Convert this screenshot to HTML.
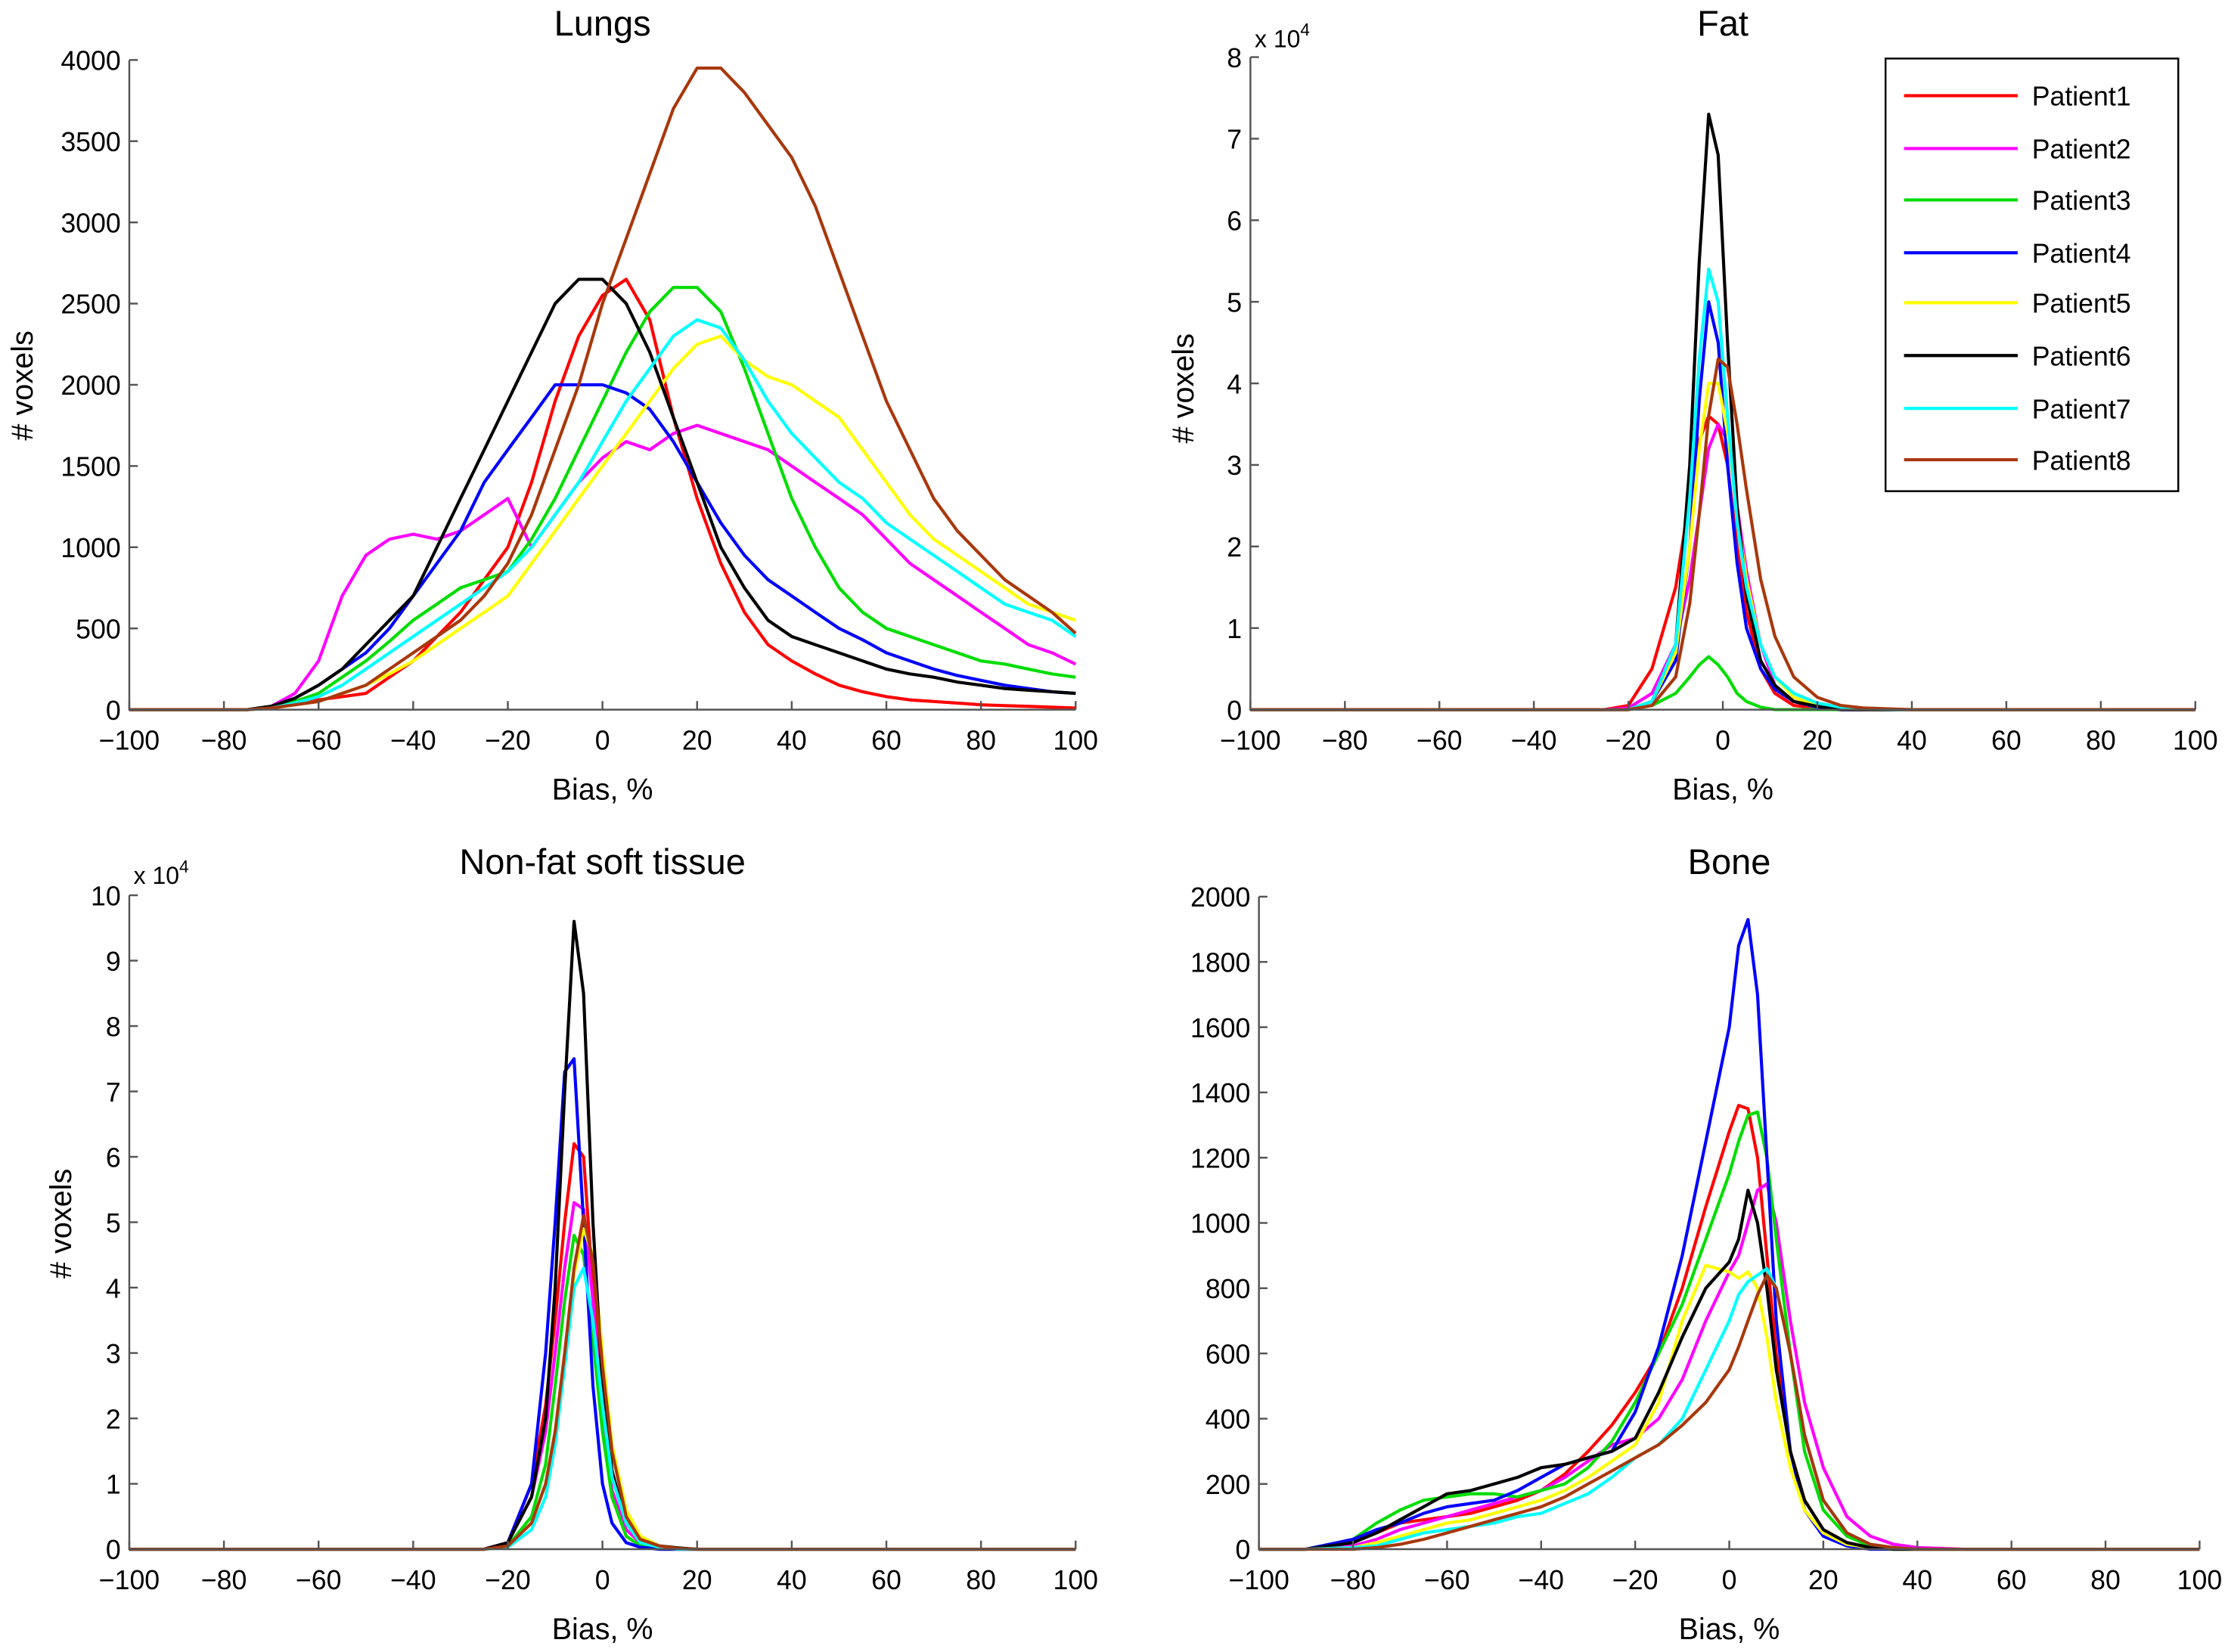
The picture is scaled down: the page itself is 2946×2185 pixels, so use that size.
<!DOCTYPE html>
<html><head><meta charset="utf-8"><style>
html,body{margin:0;padding:0;background:#fff;}
svg{display:block;font-family:"Liberation Sans",Arial,sans-serif;}
</style></head><body>
<svg id="fig" width="2946" height="2185" viewBox="0 0 1568 1157" preserveAspectRatio="none" xmlns="http://www.w3.org/2000/svg"></svg>
<script>
const colors=["#ff0000","#ff00ff","#00dd00","#0000ff","#ffff00","#000000","#00ffff","#a8380c"];
const names=["Patient1","Patient2","Patient3","Patient4","Patient5","Patient6","Patient7","Patient8"];
const lungX=[-100,-95,-90,-85,-80,-75,-70,-65,-60,-55,-50,-45,-40,-35,-30,-25,-20,-15,-10,-5,0,5,10,15,20,25,30,35,40,45,50,55,60,65,70,75,80,85,90,95,100];
const lungP1=[0,0,0,0,0,0,10,40,60,80,100,200,300,450,600,800,1000,1400,1900,2300,2550,2650,2400,1800,1300,900,600,400,300,220,150,110,80,60,50,40,30,25,20,15,10];
const lungP2=[0,0,0,0,0,0,20,100,300,700,950,1050,1080,1050,1100,1200,1300,1000,1200,1400,1550,1650,1600,1700,1750,1700,1650,1600,1500,1400,1300,1200,1050,900,800,700,600,500,400,350,280];
const lungP3=[0,0,0,0,0,0,20,50,100,200,300,420,550,650,750,800,850,1050,1300,1600,1900,2200,2450,2600,2600,2450,2100,1700,1300,1000,750,600,500,450,400,350,300,280,250,220,200];
const lungP4=[0,0,0,0,0,0,20,70,150,250,350,500,700,900,1100,1400,1600,1800,2000,2000,2000,1950,1850,1650,1400,1150,950,800,700,600,500,430,350,300,250,210,180,150,130,110,100];
const lungP5=[0,0,0,0,0,0,10,30,50,100,150,220,300,400,500,600,700,900,1100,1300,1500,1700,1900,2100,2250,2300,2150,2050,2000,1900,1800,1600,1400,1200,1050,950,850,750,650,600,550];
const lungP6=[0,0,0,0,0,0,20,70,150,250,400,550,700,1000,1300,1600,1900,2200,2500,2650,2650,2500,2200,1800,1400,1000,750,550,450,400,350,300,250,220,200,170,150,130,120,110,100];
const lungP7=[0,0,0,0,0,0,10,40,80,150,250,350,450,550,650,750,850,1000,1200,1400,1650,1900,2100,2300,2400,2350,2150,1900,1700,1550,1400,1300,1150,1050,950,850,750,650,600,550,450];
const lungP8=[0,0,0,0,0,0,10,30,50,100,150,250,350,450,550,700,900,1200,1600,2000,2500,2900,3300,3700,3950,3950,3800,3600,3400,3100,2700,2300,1900,1600,1300,1100,950,800,700,600,470];
const fatX=[-100,-40,-25,-20,-15,-10,-7,-5,-3,-1,1,3,5,8,11,15,20,25,30,40,100];
const fatP1=[0,0,0,0.05,0.5,1.5,2.6,3.3,3.6,3.5,3.0,2.0,1.2,0.5,0.2,0.05,0.02,0,0,0,0];
const fatP2=[0,0,0,0.02,0.2,0.8,1.6,2.4,3.2,3.5,3.3,2.5,1.7,0.8,0.3,0.1,0.03,0,0,0,0];
const fatP3=[0,0,0,0,0.05,0.2,0.4,0.55,0.65,0.55,0.4,0.2,0.1,0.03,0,0,0,0,0,0,0];
const fatP4=[0,0,0,0,0.1,0.6,2.0,3.8,5.0,4.5,3.0,1.8,1.0,0.5,0.25,0.1,0.03,0,0,0,0];
const fatP5=[0,0,0,0,0.1,0.7,2.0,3.2,4.0,4.0,3.4,2.4,1.6,0.8,0.4,0.15,0.05,0.01,0,0,0];
const fatP6=[0,0,0,0,0.1,0.8,3.0,5.5,7.3,6.8,4.5,2.5,1.4,0.6,0.3,0.1,0.04,0,0,0,0];
const fatP7=[0,0,0,0,0.1,0.8,2.6,4.3,5.4,5.0,3.6,2.3,1.5,0.8,0.4,0.2,0.08,0.03,0.01,0,0];
const fatP8=[0,0,0,0,0.05,0.4,1.3,2.4,3.6,4.3,4.2,3.5,2.7,1.6,0.9,0.4,0.15,0.05,0.02,0,0];
const softX=[-100,-40,-25,-20,-15,-12,-10,-8,-6,-4,-2,0,2,5,8,12,16,20,30,100];
const softP1=[0,0,0,0.1,1.0,2.2,3.5,5.0,6.2,6.0,4.0,2.0,0.8,0.2,0.05,0,0,0,0,0];
const softP2=[0,0,0,0.1,0.8,1.8,3.0,4.3,5.3,5.2,3.8,2.0,0.9,0.3,0.1,0.02,0,0,0,0];
const softP3=[0,0,0,0.05,0.5,1.3,2.5,3.8,4.8,4.5,3.2,1.8,0.8,0.2,0.05,0,0,0,0,0];
const softP4=[0,0,0,0.1,1.0,3.0,5.0,7.3,7.5,5.0,2.5,1.0,0.4,0.1,0.03,0,0,0,0,0];
const softP5=[0,0,0,0.05,0.4,1.0,1.8,3.0,4.2,4.9,4.5,3.0,1.6,0.6,0.2,0.05,0.01,0,0,0];
const softP6=[0,0,0,0.1,0.8,2.0,4.0,7.0,9.6,8.5,5.0,2.5,1.2,0.4,0.15,0.05,0.02,0,0,0];
const softP7=[0,0,0,0.03,0.3,0.8,1.6,2.8,4.0,4.3,3.5,2.2,1.1,0.4,0.1,0.03,0,0,0,0];
const softP8=[0,0,0,0.05,0.4,1.0,1.8,3.0,4.3,5.1,4.4,2.8,1.5,0.5,0.15,0.05,0.01,0,0,0];
const boneX=[-100,-90,-80,-75,-70,-65,-60,-55,-50,-45,-40,-35,-30,-25,-20,-15,-10,-5,0,2,4,6,8,10,13,16,20,25,30,35,40,50,100];
const boneP1=[0,0,20,50,80,90,100,110,130,150,180,230,300,380,480,600,800,1050,1280,1360,1350,1200,900,600,300,150,60,20,5,0,0,0,0];
const boneP2=[0,0,10,30,60,80,100,120,140,160,180,220,270,320,340,400,520,700,850,900,1000,1100,1120,1000,700,450,250,100,40,15,5,0,0];
const boneP3=[0,0,30,80,120,150,160,170,170,160,180,200,250,330,450,600,750,950,1150,1250,1330,1340,1200,950,600,300,120,40,10,0,0,0,0];
const boneP4=[0,0,30,60,80,110,130,140,150,180,220,260,280,300,420,620,900,1250,1600,1850,1930,1700,1200,700,300,120,40,10,0,0,0,0,0];
const boneP5=[0,0,5,20,40,60,80,90,110,130,150,180,220,270,320,450,700,870,850,830,850,800,650,450,250,120,50,15,5,0,0,0,0];
const boneP6=[0,0,20,50,90,130,170,180,200,220,250,260,280,300,340,480,650,800,880,950,1100,1000,800,550,300,150,60,20,5,0,0,0,0];
const boneP7=[0,0,5,10,30,50,60,70,80,100,110,140,170,220,280,320,400,550,700,780,820,840,860,800,600,350,150,50,15,5,0,0,0];
const boneP8=[0,0,0,5,15,30,50,70,90,110,130,160,200,240,280,320,380,450,550,620,700,780,840,800,600,350,150,50,15,5,0,0,0];
const xTicks=[-100,-80,-60,-40,-20,0,20,40,60,80,100];
const lungYTicks=[0,500,1000,1500,2000,2500,3000,3500,4000];
const fatYTicks=[0,1,2,3,4,5,6,7,8];
const softYTicks=[0,1,2,3,4,5,6,7,8,9,10];
const boneYTicks=[0,200,400,600,800,1000,1200,1400,1600,1800,2000];

const NS="http://www.w3.org/2000/svg";
const svg=document.getElementById('fig');
function mk(tag,attrs,parent){const e=document.createElementNS(NS,tag);for(const k in attrs)e.setAttribute(k,attrs[k]);(parent||svg).appendChild(e);return e;}
function txt(s,x,y,size,anchor,parent,rot){const t=mk('text',{x:x,y:y,'font-size':size,'text-anchor':anchor||'middle',fill:'#000'},parent);if(rot)t.setAttribute('transform','rotate(-90 '+x+' '+y+')');t.textContent=s;return t;}
function fmt(v){return v<0?'\u2212'+(-v):String(v);}

const panels=[
 {key:'lungs',title:'Lungs',x0:91,x1:757,y0:497,y1:42,ymax:4000,yt:lungYTicks,xs:lungX,series:[lungP1,lungP2,lungP3,lungP4,lungP5,lungP6,lungP7,lungP8],ylab:[15,270],ty:16,exp:null},
 {key:'fat',title:'Fat',x0:880,x1:1545,y0:497,y1:40,ymax:8,yt:fatYTicks,xs:fatX,series:[fatP1,fatP2,fatP3,fatP4,fatP5,fatP6,fatP7,fatP8],ylab:[832,272],ty:16,exp:[883,26]},
 {key:'soft',title:'Non-fat soft tissue',x0:91,x1:757,y0:1085,y1:627,ymax:10,yt:softYTicks,xs:softX,series:[softP1,softP2,softP3,softP4,softP5,softP6,softP7,softP8],ylab:[42,857],ty:603,exp:[94,612]},
 {key:'bone',title:'Bone',x0:886,x1:1548,y0:1085,y1:628,ymax:2000,yt:boneYTicks,xs:boneX,series:[boneP1,boneP2,boneP3,boneP4,boneP5,boneP6,boneP7,boneP8],ylab:null,ty:603,exp:null}
];
panels.forEach(p=>{
  const g=mk('g',{});
  
  
  const sx=v=>p.x0+(v+100)/200*(p.x1-p.x0);
  const sy=v=>p.y0-(v/p.ymax)*(p.y0-p.y1);
  p.series.forEach((s,i)=>{
    const d=s.map((v,j)=>(j?'L':'M')+sx(p.xs[j]).toFixed(1)+' '+sy(v).toFixed(1)).join(' ');
    const path=mk('path',{d:d,fill:'none',stroke:colors[i],'stroke-width':2.2,'stroke-linejoin':'round'},g);
    
    
  });
  const ax=mk('path',{d:'M'+p.x0+' '+p.y1+' L'+p.x0+' '+p.y0+' L'+p.x1+' '+p.y0,fill:'none',stroke:'#555','stroke-width':1.3},g);
  
  
  xTicks.forEach(v=>{
    mk('line',{x1:sx(v),x2:sx(v),y1:p.y0,y2:p.y0-6,stroke:'#555','stroke-width':1.3},g);
    const t=txt(fmt(v),sx(v),p.y0+28,19,'middle',g);
    
    
  });
  p.yt.forEach(v=>{
    mk('line',{x1:p.x0,x2:p.x0+6,y1:sy(v),y2:sy(v),stroke:'#555','stroke-width':1.3},g);
    const t=txt(String(v),p.x0-6,sy(v)+7,19,'end',g);
    
    
  });
  const tt=txt(p.title,(p.x0+p.x1)/2,p.ty+9,25,'middle',g);
  
  
  const xl=txt('Bias, %',(p.x0+p.x1)/2,p.y0+63,21,'middle',g);
  
  
  if(p.ylab){
    const yl=txt('# voxels',p.ylab[0]+8,p.ylab[1],21,'middle',g,true);
    
    
  }
  if(p.exp){
    const e=mk('text',{x:p.exp[0],y:p.exp[1]+7,'font-size':17,fill:'#000'},g);
    e.textContent='x 10';
    const sup=mk('tspan',{dy:-8,'font-size':12},e);sup.textContent='4';
    
    
  }
});
const lg=mk('g',{});


mk('rect',{x:1327,y:41,width:206,height:303,fill:'#fff',stroke:'#000','stroke-width':1.3},lg);
const ly=[67,104,140,177,212,249,286,322];
names.forEach((n,i)=>{
  const l=mk('line',{x1:1340,x2:1420,y1:ly[i],y2:ly[i],stroke:colors[i],'stroke-width':2.2},lg);
  
  
  const t=txt(n,1430,ly[i]+7,19,'start',lg);
  
  
});
</script>
</body></html>
